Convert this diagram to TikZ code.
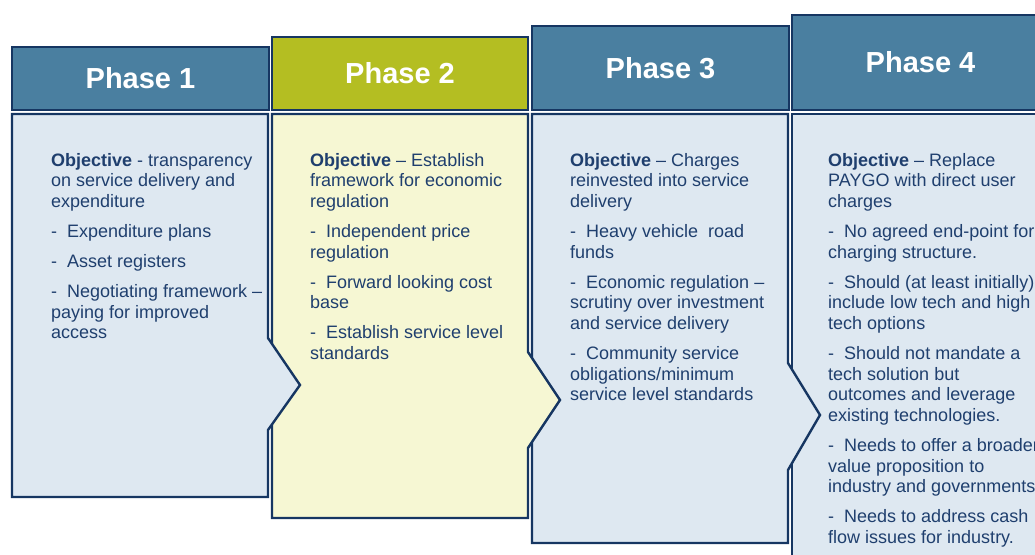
\documentclass[tikz,border=0pt]{standalone}
\usepackage{fontspec}
\setmainfont{Liberation Sans}
\definecolor{navy}{HTML}{163662}
\definecolor{hblue}{HTML}{4A7FA0}
\definecolor{hgreen}{HTML}{B4BE22}
\definecolor{bblue}{HTML}{DEE8F1}
\definecolor{bgreen}{HTML}{F6F7D3}
\definecolor{txt}{HTML}{1F3F6E}
\begin{document}
\begin{tikzpicture}[x=1pt,y=-1pt,
  outline/.style={draw=navy,line width=2.4pt,line join=miter},
  header/.style={outline,fill=hblue},
  headerg/.style={outline,fill=hgreen},
  headtext/.style={text=white,font=\fontsize{29}{32}\selectfont\bfseries},
  bodytext/.style={anchor=north west,inner sep=0pt,align=left,text=txt,font=\fontsize{18}{20.6}\selectfont}]
\useasboundingbox (0,0) rectangle (1035,554);
\begin{scope}
\clip (0,0) rectangle (1035,554);
% Phase 4
\path[outline,fill=bblue] (792,114) -- (1052,114) -- (1052,600) -- (792,600) -- cycle;
\path[header] (792,15) rectangle (1049,110);
\node[headtext] (h4) at (920.5,62.5) {Phase 4};
% Phase 3
\path[outline,fill=bblue] (532,114) -- (788,114) -- (788,363) -- (820,415) -- (788,470) -- (788,543) -- (532,543) -- cycle;
\path[header] (532,26) rectangle (789,110);
\node[headtext] (h3) at (660.5,68) {Phase 3};
% Phase 2
\path[outline,fill=bgreen] (272,114) -- (528,114) -- (528,352) -- (560,400) -- (528,448) -- (528,518) -- (272,518) -- cycle;
\path[headerg] (272,37) rectangle (528,110);
\node[headtext] (h2) at (400,73.5) {Phase 2};
% Phase 1
\path[outline,fill=bblue] (12,114) -- (268,114) -- (268,338) -- (300,385) -- (268,430) -- (268,497) -- (12,497) -- cycle;
\path[header] (12,47) rectangle (269,110);
\node[headtext] (h1) at (140.5,78.5) {Phase 1};
% texts
\node[bodytext] (t1) at (51,153) {\textbf{Objective} - transparency\\on service delivery and\\expenditure\\[9.5pt]
-~~Expenditure plans\\[9.5pt]
-~~Asset registers\\[9.5pt]
-~~Negotiating framework –\\paying for improved\\access};
\node[bodytext] (t2) at (310,153) {\textbf{Objective} – Establish\\framework for economic\\regulation\\[9.5pt]
-~~Independent price\\regulation\\[9.5pt]
-~~Forward looking cost\\base\\[9.5pt]
-~~Establish service level\\standards};
\node[bodytext] (t3) at (570,153) {\textbf{Objective} – Charges\\reinvested into service\\delivery\\[9.5pt]
-~~Heavy vehicle~ road\\funds\\[9.5pt]
-~~Economic regulation –\\scrutiny over investment\\and service delivery\\[9.5pt]
-~~Community service\\obligations/minimum\\service level standards};
\node[bodytext] (t4) at (828,153) {\textbf{Objective} – Replace\\PAYGO with direct user\\charges\\[9.5pt]
-~~No agreed end-point for\\charging structure.\\[9.5pt]
-~~Should (at least initially)\\include low tech and high\\tech options\\[9.5pt]
-~~Should not mandate a\\tech solution but\\outcomes and leverage\\existing technologies.\\[9.5pt]
-~~Needs to offer a broader\\value proposition to\\industry and governments\\[9.5pt]
-~~Needs to address cash\\flow issues for industry.};
\end{scope}
\end{tikzpicture}
\end{document}
